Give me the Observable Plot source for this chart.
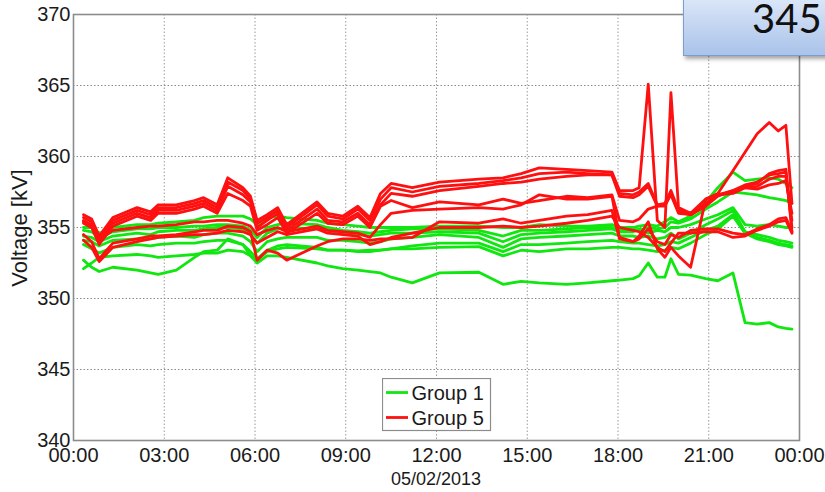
<!DOCTYPE html>
<html><head><meta charset="utf-8">
<script src="https://cdn.jsdelivr.net/npm/d3@7"></script>
<script src="https://cdn.jsdelivr.net/npm/@observablehq/plot@0.6"></script>
<style>
html,body{margin:0;padding:0;background:#fff;overflow:hidden;}
#wrap{position:relative;width:825px;height:492px;overflow:hidden;font-family:"Liberation Sans",Arial,sans-serif;}
#legend{position:absolute;left:382px;top:378px;}
#badge{position:absolute;left:683px;top:-12px;width:170px;height:66px;border:1.5px solid #7d9dcf;
 background:linear-gradient(#e4ecfa,#a9c3ea);box-shadow:2px 3px 4px rgba(0,0,0,0.35);}
#badge span{position:absolute;left:68px;top:9px;font-family:Lato,"Open Sans",sans-serif;font-size:40px;line-height:1;color:#111;}
#ylab{position:absolute;left:20px;top:228px;transform:translate(-50%,-50%) rotate(-90deg);white-space:nowrap;font-size:22px;color:#1a1a1a;line-height:1;}
#xlab{position:absolute;left:436px;top:470px;transform:translateX(-50%);white-space:nowrap;font-size:18px;color:#1a1a1a;line-height:1;}
</style></head><body><div id="wrap"></div>
<script>
// time of each sample, hours after 00:00 on 05/02/2013
const hours = [0.33,0.6,0.85,1.3,2.1,2.55,2.8,3.4,4.0,4.3,4.75,5.1,5.6,5.85,6.07,6.4,6.75,7.05,8.05,8.4,8.9,9.4,9.8,10.15,10.5,11.2,12.1,13.4,14.2,14.8,15.4,16.3,17.0,17.8,18.05,18.5,18.7,19.0,19.3,19.55,19.75,20.0,20.4,20.9,21.3,21.8,22.2,22.6,23.0,23.3,23.55,23.75];

// Group 1 (green) voltages, kV
const g1a = [355.0,355.0,354.6,355.0,355.2,355.2,355.3,355.4,355.5,355.7,355.8,355.8,355.8,355.6,355.2,355.7,355.8,355.7,355.5,355.3,355.2,355.1,355.0,355.0,355.0,355.0,355.1,355.1,355.0,355.0,355.2,355.1,355.1,355.2,355.0,355.0,355.1,355.2,355.1,355.4,355.7,355.4,355.8,356.8,357.8,358.9,358.3,358.4,358.5,358.4,358.1,357.8];
const g1b = [354.8,354.7,354.3,354.7,354.9,354.9,355.0,355.0,355.1,355.1,355.2,355.2,355.1,354.8,354.3,355.0,355.2,355.3,355.2,355.0,354.8,354.7,354.6,354.7,354.8,354.9,354.9,354.8,354.4,354.8,354.8,354.9,355.0,355.0,354.8,354.9,354.8,355.0,354.9,355.0,355.4,355.3,355.6,356.3,356.8,357.5,357.4,357.3,357.1,357.0,356.9,356.7];
const g1c = [354.4,354.3,354.0,354.4,354.6,354.5,354.7,354.8,354.8,354.9,355.0,355.0,354.9,354.5,353.9,354.6,354.9,355.0,354.9,354.8,354.6,354.5,354.4,354.5,354.6,354.6,354.7,354.6,354.0,354.5,354.6,354.7,354.8,354.9,354.7,354.7,354.9,354.6,354.8,354.7,355.0,355.0,355.2,355.6,355.9,356.4,355.2,355.1,355.2,355.1,355.0,355.0];
const g1d = [354.1,354.0,353.7,354.1,354.2,354.2,354.3,354.4,354.3,354.5,354.6,354.6,354.4,354.0,353.3,354.0,354.2,354.3,354.3,354.1,354.1,354.0,353.9,354.0,354.2,354.3,354.5,354.3,353.6,354.2,354.3,354.4,354.5,354.6,354.4,354.4,354.3,354.4,354.2,354.3,354.6,354.2,354.6,355.2,355.6,356.2,354.7,354.5,354.3,354.1,354.0,353.9];
const g1e = [353.8,353.5,353.2,353.6,353.8,353.7,353.8,353.9,353.9,354.0,354.1,354.1,353.8,353.3,352.8,353.4,353.7,353.8,353.6,353.4,353.4,353.3,353.3,353.4,353.5,353.7,353.9,353.9,353.3,353.8,353.8,353.9,354.0,354.1,354.0,353.9,353.9,353.8,353.7,353.8,354.0,353.9,354.3,354.8,355.1,355.9,354.6,354.3,354.1,353.9,353.8,353.7];
const g1f = [352.1,352.5,352.9,353.0,353.1,353.0,352.9,353.0,353.1,353.2,353.2,353.4,353.3,353.0,352.7,353.3,353.5,353.6,353.5,353.4,353.4,353.35,353.4,353.4,353.5,353.5,353.6,353.65,353.0,353.4,353.3,353.5,353.5,353.6,353.6,353.5,353.5,353.4,353.3,353.4,353.6,353.5,353.9,354.5,354.9,355.8,354.6,354.2,354.0,353.8,353.7,353.6];
const g1g = [352.7,352.2,351.9,352.2,352.0,351.8,351.7,352.0,352.9,353.3,353.4,354.2,353.8,353.0,352.5,353.0,353.0,352.9,352.5,352.3,352.1,352.0,351.9,351.8,351.5,351.1,351.8,351.85,351.0,351.2,351.1,351.0,351.1,351.25,351.3,351.4,351.6,352.5,351.5,351.5,352.8,351.7,351.65,351.4,351.25,351.8,348.3,348.2,348.3,348.0,347.9,347.85];

// Group 5 (red) voltages, kV
const g5a = [355.9,355.6,354.4,355.7,356.4,356.1,356.6,356.6,356.9,357.1,356.6,358.5,357.8,357.2,355.5,355.9,356.4,355.2,356.8,356.0,355.8,356.5,355.7,357.4,358.1,357.8,358.2,358.4,358.5,358.8,359.2,359.1,359.0,358.9,357.6,357.6,357.8,365.1,355.5,355.0,364.5,356.4,356.0,357.0,357.4,359.0,360.3,361.6,362.4,361.8,362.2,356.7];
const g5b = [355.7,355.4,354.2,355.5,356.2,355.9,356.4,356.4,356.7,356.9,356.4,358.2,357.6,357.0,355.3,355.7,356.2,355.0,356.6,355.8,355.6,356.3,355.5,357.0,357.8,357.5,357.9,358.1,358.3,358.5,358.8,358.9,358.8,358.7,357.4,357.3,357.5,358.1,356.6,356.7,357.6,356.2,356.0,356.7,357.3,357.5,357.9,358.1,358.8,359.0,359.1,354.7];
const g5c = [355.5,355.2,354.0,355.3,356.0,355.7,356.2,356.2,356.5,356.7,356.2,357.9,357.3,356.8,355.0,355.5,356.0,354.8,356.3,355.5,355.4,356.0,355.2,356.6,357.4,357.2,357.6,357.9,358.1,358.2,358.4,358.6,358.7,358.7,357.2,357.1,357.3,357.9,356.5,356.5,357.4,356.1,355.9,356.5,357.2,357.6,358.0,358.2,358.7,358.8,358.9,355.0];
const g5d = [355.3,355.0,353.8,355.1,355.8,355.5,356.0,356.0,356.3,356.5,356.0,357.4,356.9,356.5,354.8,355.2,355.7,354.6,356.0,355.3,355.2,355.8,355.0,356.5,356.9,356.4,356.8,356.6,357.0,356.7,356.9,357.2,357.1,357.3,355.5,355.4,355.6,356.3,356.5,356.6,357.3,356.0,355.9,356.6,357.3,357.4,357.8,357.9,358.4,358.6,358.6,355.5];
const g5e = [355.4,355.0,354.1,354.8,355.0,355.1,355.1,355.2,355.4,355.4,355.5,355.5,355.3,355.1,354.5,354.8,355.0,354.7,355.1,354.8,354.7,354.6,354.3,355.2,356.0,356.2,356.3,356.4,356.3,356.6,357.3,357.0,357.0,357.2,354.3,354.0,354.4,355.4,353.5,352.9,353.6,353.0,352.2,357.0,357.3,357.6,357.8,357.7,358.0,358.1,358.3,356.0];
const g5f = [354.5,354.0,352.8,353.9,354.2,354.4,354.4,354.5,354.7,354.8,354.8,355.1,355.0,354.7,352.7,353.4,353.2,352.7,353.7,354.0,354.2,354.2,354.1,354.2,354.2,354.3,355.4,355.3,355.6,355.3,355.5,355.8,355.9,356.2,354.2,354.0,354.2,354.9,354.0,353.8,354.5,354.3,354.8,354.9,354.9,354.6,354.5,354.9,355.2,355.6,355.7,354.7];
const g5g = [354.1,353.6,352.6,353.6,354.0,354.2,354.3,354.4,354.5,354.5,354.6,354.8,354.7,354.5,353.9,354.3,354.7,354.5,354.9,354.6,354.5,354.4,353.8,354.0,354.3,354.6,355.0,355.0,355.1,355.0,355.1,355.3,355.5,355.8,355.0,354.8,354.7,354.3,353.6,353.3,353.9,354.6,354.6,354.7,354.7,354.3,354.4,354.8,355.1,355.4,355.5,354.6];

const group1Series = [g1a,g1b,g1c,g1d,g1e,g1f,g1g];
const group5Series = [g5a,g5b,g5c,g5d,g5e,g5f,g5g];

const groupNames = ["Group 1","Group 5"];
const groupColors = ["#10e610","#ff1010"];
const yTicks = [340,345,350,355,360,365,370];
const xTickHours = [0,3,6,9,12,15,18,21,24];
const xTickLabels = ["00:00","03:00","06:00","09:00","12:00","15:00","18:00","21:00","00:00"];
const dateLabel = "05/02/2013";
const yLabel = "Voltage [kV]";

function rows(seriesList, group){
  const out = [];
  seriesList.forEach((vals, si) => vals.forEach((v, i) => out.push({t: hours[i], v, s: group + "-" + si, group})));
  return out;
}
const rows1 = rows(group1Series, groupNames[0]);
const rows5 = rows(group5Series, groupNames[1]);

const chart = Plot.plot({
  width: 825, height: 492,
  marginLeft: 73, marginRight: 26, marginTop: 14, marginBottom: 52,
  style: {fontFamily: "'Liberation Sans', Arial, sans-serif", fontSize: "20px", color: "#1a1a1a", background: "#fff"},
  x: {domain: [0, 24]},
  y: {domain: [340, 370]},
  marks: [
    Plot.gridX(xTickHours, {stroke: "#9a9a9a", strokeOpacity: 1, strokeDasharray: "1.5,2"}),
    Plot.gridY(yTicks, {stroke: "#8a8a8a", strokeOpacity: 1, strokeDasharray: "1.5,2"}),
    Plot.line(rows1, {x: "t", y: "v", z: "s", stroke: groupColors[0], strokeWidth: 2.8, strokeLinejoin: "round"}),
    Plot.line(rows5, {x: "t", y: "v", z: "s", stroke: groupColors[1], strokeWidth: 2.8, strokeLinejoin: "round"}),
    Plot.frame({stroke: "#8c8c8c", strokeWidth: 1.6}),
    Plot.axisY(yTicks, {tickSize: 0, tickPadding: 3, tickFormat: d => String(d), label: null, fontSize: 20}),
    Plot.axisX(xTickHours, {tickSize: 0, tickPadding: 7, tickFormat: (d, i) => xTickLabels[i], label: null, fontSize: 20})
  ]
});
const wrap = document.getElementById("wrap");
wrap.appendChild(chart);

// axis titles
const yl = document.createElement("div"); yl.id = "ylab"; yl.textContent = yLabel; wrap.appendChild(yl);
const xl = document.createElement("div"); xl.id = "xlab"; xl.textContent = dateLabel; wrap.appendChild(xl);

// legend
const ns = "http://www.w3.org/2000/svg";
const leg = document.createElementNS(ns, "svg");
leg.setAttribute("width", 110); leg.setAttribute("height", 54);
leg.id = "legend";
const box = document.createElementNS(ns, "rect");
box.setAttribute("x", 0.5); box.setAttribute("y", 0.5); box.setAttribute("width", 108); box.setAttribute("height", 52);
box.setAttribute("fill", "#fff"); box.setAttribute("stroke", "#8c8c8c"); box.setAttribute("stroke-width", 1.2);
leg.appendChild(box);
groupNames.forEach((name, i) => {
  const y = 14.5 + i * 25;
  const l = document.createElementNS(ns, "line");
  l.setAttribute("x1", 4); l.setAttribute("x2", 26); l.setAttribute("y1", y); l.setAttribute("y2", y);
  l.setAttribute("stroke", groupColors[i]); l.setAttribute("stroke-width", 2.8);
  leg.appendChild(l);
  const tx = document.createElementNS(ns, "text");
  tx.setAttribute("x", 29.5); tx.setAttribute("y", y + 7);
  tx.setAttribute("font-family", "'Liberation Sans', Arial, sans-serif"); tx.setAttribute("font-size", 20); tx.setAttribute("fill", "#1a1a1a");
  tx.textContent = name;
  leg.appendChild(tx);
});
wrap.appendChild(leg);

// slide annotation box
const badge = document.createElement("div");
badge.id = "badge";
const sp = document.createElement("span");
sp.textContent = "345";
badge.appendChild(sp);
wrap.appendChild(badge);
</script></body></html>
